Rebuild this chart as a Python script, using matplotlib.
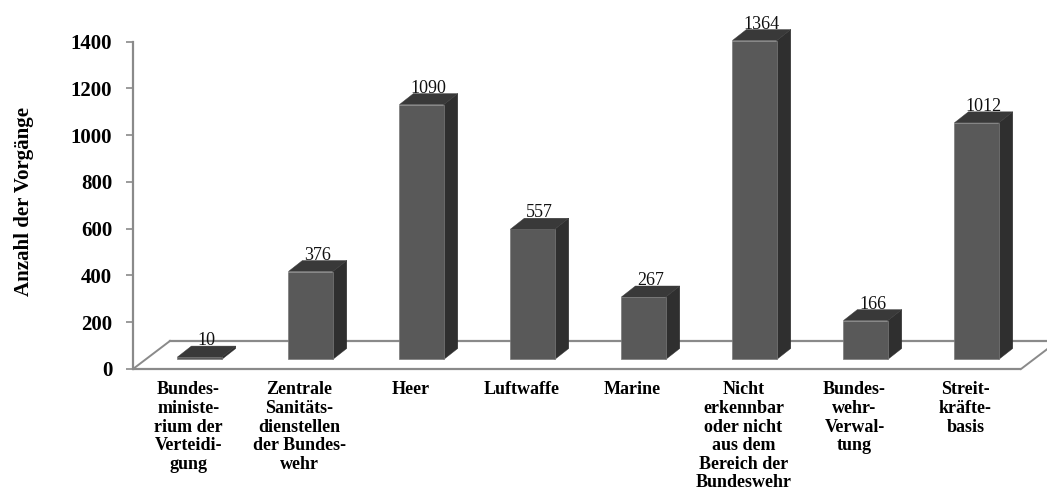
import matplotlib
matplotlib.use("Agg")
import matplotlib.pyplot as plt
from matplotlib.patches import Polygon

categories = [
    "Bundes-\nministe-\nrium der\nVerteidi-\ngung",
    "Zentrale\nSanitäts-\ndienstellen\nder Bundes-\nwehr",
    "Heer",
    "Luftwaffe",
    "Marine",
    "Nicht\nerkennbar\noder nicht\naus dem\nBereich der\nBundeswehr",
    "Bundes-\nwehr-\nVerwal-\ntung",
    "Streit-\nkräfte-\nbasis",
]
values = [10, 376, 1090, 557, 267, 1364, 166, 1012]
yticks = [0, 200, 400, 600, 800, 1000, 1200, 1400]
ylabel = "Anzahl der Vorgänge"

SERIF = ["Liberation Serif", "DejaVu Serif"]
FRONT = "#595959"
SIDE = "#2f2f2f"
TOP = "#393939"
LINE = "#8a8a8a"

fig = plt.figure(figsize=(10.47, 4.99), dpi=100)
ax = fig.add_axes([133 / 1047, (499 - 369) / 499, 888 / 1047, (369 - 41.7) / 499])
ax.set_xlim(0, len(categories))
ax.set_ylim(0, 1400)

# floor depth (data units)
fdx, fdy = 0.333, 120
# bar placement within depth
ox, oy = 0.10, 41
bdx, bdy = 0.126, 47
bw = 0.40

n = len(categories)
# floor outline
ax.plot([0, n], [0, 0], color=LINE, lw=1.6, clip_on=False, zorder=1, solid_capstyle="butt")
ax.plot([fdx, n + fdx], [fdy, fdy], color=LINE, lw=1.6, clip_on=False, zorder=1)
ax.plot([0, fdx], [0, fdy], color=LINE, lw=1.4, clip_on=False, zorder=1)
ax.plot([n, n + fdx], [0, fdy], color=LINE, lw=1.4, clip_on=False, zorder=1)

xs = [i + 0.5 for i in range(n)]
bars = ax.bar([x + ox for x in xs], values, width=bw, bottom=oy, color=FRONT,
              edgecolor="#7a7a7a", linewidth=0.5, zorder=3)

for rect, v in zip(bars, values):
    rect.set_clip_on(False)
    xl = rect.get_x()
    xr = xl + rect.get_width()
    b = rect.get_y()
    t = b + v
    side = Polygon([(xr, b), (xr + bdx, b + bdy), (xr + bdx, t + bdy), (xr, t)],
                   closed=True, facecolor=SIDE, edgecolor=SIDE, lw=0.3, zorder=2, clip_on=False)
    top = Polygon([(xl, t), (xl + bdx, t + bdy), (xr + bdx, t + bdy), (xr, t)],
                  closed=True, facecolor=TOP, edgecolor=TOP, lw=0.3, zorder=3, clip_on=False)
    ax.add_patch(side)
    ax.add_patch(top)
    ax.text((xl + xr) / 2 + bdx / 2, t + bdy + 4, f"{v}", ha="center", va="baseline",
            fontsize=13, family=SERIF, color="#111111", zorder=5, clip_on=False)

for s in ["top", "right", "bottom"]:
    ax.spines[s].set_visible(False)
ax.spines["left"].set_color(LINE)
ax.spines["left"].set_linewidth(1.6)

ax.set_yticks(yticks)
ax.set_yticklabels([str(t) for t in yticks], fontsize=15, fontweight="bold", family=SERIF)
ax.tick_params(axis="y", direction="out", length=5, width=1.2, color=LINE, pad=10)

ax.set_xticks(xs)
ax.set_xticklabels(categories, fontsize=13, fontweight="bold", family=SERIF)
ax.tick_params(axis="x", length=0, pad=9)
for lbl in ax.get_xticklabels():
    lbl.set_linespacing(1.12)

fig.text(24 / 1047, 1 - 202 / 499, ylabel, rotation=90, ha="center", va="center",
         fontsize=15, fontweight="bold", family=SERIF)

fig.savefig("out.png", dpi=100)
